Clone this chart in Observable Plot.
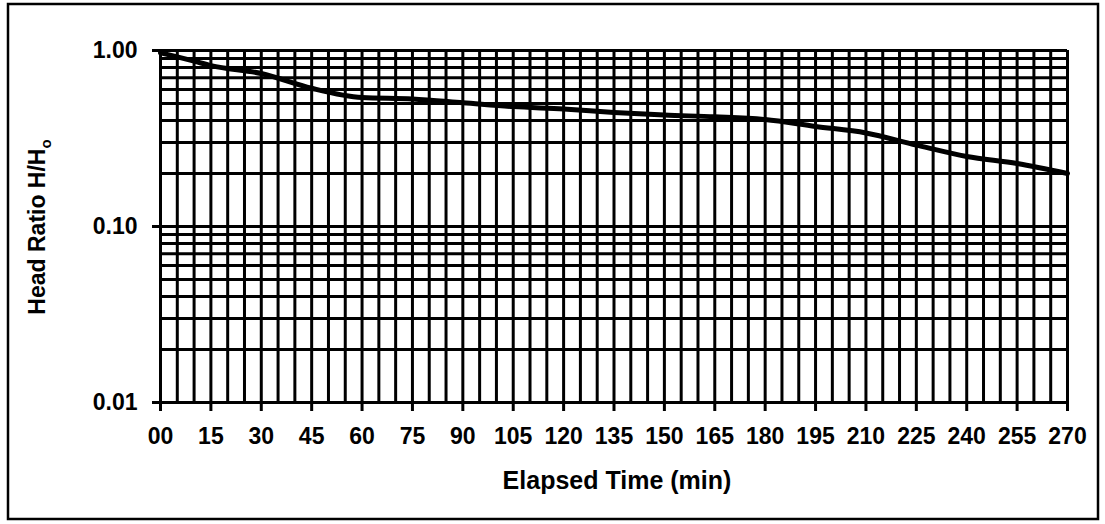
<!DOCTYPE html>
<html><head><meta charset="utf-8">
<script src="https://cdn.jsdelivr.net/npm/d3@7"></script>
<script src="https://cdn.jsdelivr.net/npm/@observablehq/plot@0.6"></script>
<style>
html,body{margin:0;padding:0;background:#fff;}
svg{display:block;}
</style></head>
<body><div id="chart"></div>
<script>
const times = [0, 5, 10, 15, 30, 45, 60, 75, 90, 105, 120, 135, 150, 165, 180, 195, 210, 225, 240, 255, 270];
const headRatio = [0.97, 0.92, 0.87, 0.82, 0.74, 0.61, 0.54, 0.53, 0.505, 0.48, 0.465, 0.445, 0.43, 0.42, 0.405, 0.37, 0.34, 0.29, 0.25, 0.228, 0.20];
const xTicks = [0, 15, 30, 45, 60, 75, 90, 105, 120, 135, 150, 165, 180, 195, 210, 225, 240, 255, 270];
const xTickLabels = ["00","15","30","45","60","75","90","105","120","135","150","165","180","195","210","225","240","255","270"];
const xGrid = d3.range(0, 271, 5);
const yTicks = [0.01, 0.1, 1];
const yTickLabels = ["0.01", "0.10", "1.00"];
const yGrid = [0.01,0.02,0.03,0.04,0.05,0.06,0.07,0.08,0.09,0.1,0.2,0.3,0.4,0.5,0.6,0.7,0.8,0.9,1];

const data = times.map((t, i) => ({t, v: headRatio[i]}));
const font = "Liberation Sans, Arial, sans-serif";

const chart = Plot.plot({
  width: 1105,
  height: 524,
  marginLeft: 160,
  marginRight: 38,
  marginTop: 50,
  marginBottom: 122,
  style: {fontFamily: font, fontSize: "23px", fontWeight: "bold", color: "#000", background: "#fff"},
  x: {domain: [0, 270], label: null},
  y: {type: "log", domain: [0.01, 1], label: null},
  marks: [
    Plot.ruleX(xGrid, {stroke: "#000", strokeWidth: 3, strokeOpacity: 1}),
    Plot.ruleY(yGrid, {stroke: "#000", strokeWidth: 3, strokeOpacity: 1}),
    Plot.axisX({ticks: xTicks, tickFormat: (d) => xTickLabels[xTicks.indexOf(d)], tickSize: 9, tickPadding: 16, strokeWidth: 3, fontWeight: "bold", fontSize: 23, label: null}),
    Plot.axisY({ticks: yTicks, tickFormat: (d) => yTickLabels[yTicks.findIndex(v => Math.abs(v - d) < 1e-9)], tickSize: 8, tickPadding: 15, strokeWidth: 3, fontWeight: "bold", fontSize: 23, label: null}),
    Plot.line(data, {x: "t", y: "v", stroke: "#000", strokeWidth: 5, curve: "monotone-x"})
  ]
});

const svg = d3.select(chart);
svg.append("rect").attr("x", 8).attr("y", 4).attr("width", 1090).attr("height", 515)
  .attr("fill", "none").attr("stroke", "#000").attr("stroke-width", 2.5);
svg.append("text").attr("x", 617).attr("y", 489).attr("text-anchor", "middle")
  .attr("font-family", font).attr("font-size", 25).attr("font-weight", "bold").text("Elapsed Time (min)");
const yl = svg.append("text").attr("transform", "translate(45,227) rotate(-90)").attr("text-anchor", "middle")
  .attr("font-family", font).attr("font-size", 23).attr("font-weight", "bold");
yl.append("tspan").text("Head Ratio H/H");
yl.append("tspan").attr("font-size", 15).attr("dy", 6).text("o");
document.getElementById("chart").appendChild(chart);
</script>
</body></html>
